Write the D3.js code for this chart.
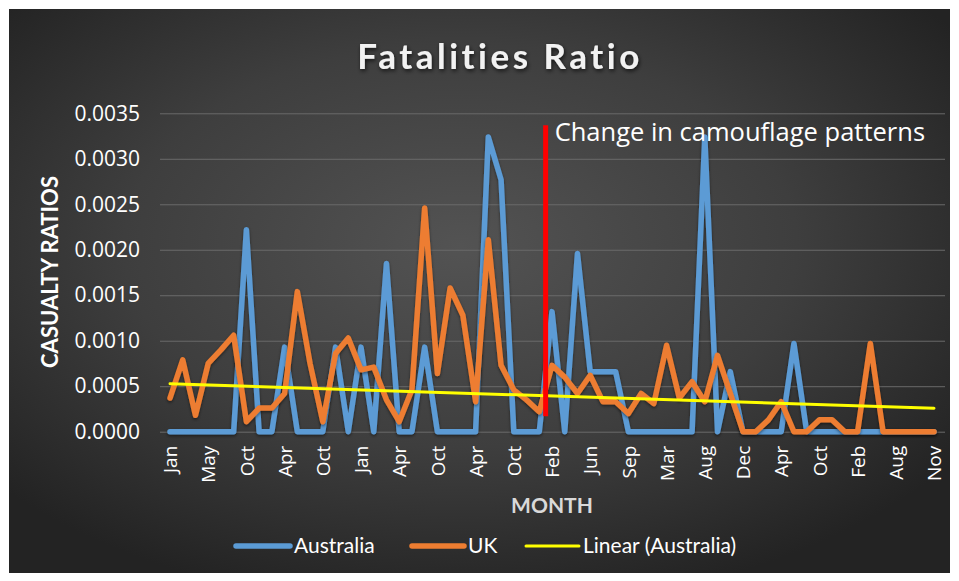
<!DOCTYPE html>
<html>
<head>
<meta charset="utf-8">
<script src="https://cdn.jsdelivr.net/npm/d3@7/dist/d3.min.js"></script>
<style>
  html, body { margin: 0; padding: 0; background: #ffffff; }
  svg { display: block; }
</style>
</head>
<body>
<svg id="chart" width="959" height="581"></svg>
<script>
// Casualty ratios per reporting period (61 periods), Australia vs UK
const australia = [
  0, 0, 0, 0, 0, 0, 0.00222, 0, 0, 0.00093,
  0, 0, 0, 0.00093, 0, 0.00093, 0, 0.00185, 0, 0,
  0.00093, 0, 0, 0, 0, 0.00324, 0.00277, 0, 0, 0,
  0.00132, 0, 0.00196, 0.00066, 0.00066, 0.00066, 0, 0, 0, 0,
  0, 0, 0.00324, 0, 0.00066, 0, 0, 0, 0, 0.00097,
  0, 0, 0, 0, 0, 0, 0, 0, 0, 0, 0
];
const uk = [
  0.00037, 0.00079, 0.00018, 0.00075, 0.00090, 0.00106, 0.00011, 0.00026, 0.00026, 0.00042,
  0.00154, 0.00075, 0.00011, 0.00086, 0.00103, 0.00068, 0.00071, 0.00035, 0.00011, 0.00046,
  0.00246, 0.00064, 0.00158, 0.00128, 0.00033, 0.00211, 0.00073, 0.00046, 0.00035, 0.00022,
  0.00073, 0.00060, 0.00042, 0.00062, 0.00033, 0.00033, 0.00020, 0.00042, 0.00031, 0.00095,
  0.00037, 0.00055, 0.00033, 0.00084, 0.00042, 0, 0, 0.00013, 0.00033, 0,
  0, 0.00013, 0.00013, 0, 0, 0.00097, 0, 0, 0, 0, 0
];
// Month shown under every third period
const tickMonths = ["Jan", "May", "Oct", "Apr", "Oct", "Jan", "Apr", "Oct", "Apr", "Oct",
  "Feb", "Jun", "Sep", "Mar", "Aug", "Dec", "Apr", "Oct", "Feb", "Aug", "Nov"];
const yTicks = [0, 0.0005, 0.0010, 0.0015, 0.0020, 0.0025, 0.0030, 0.0035];
// Camouflage change marker: between periods 29 and 30
const markerAt = 29.5;
const markerRange = [0.00017, 0.00337];
const markerText = "Change in camouflage patterns";

const svg = d3.select("#chart");
const plot = { left: 160, right: 945, top: 113.3, bottom: 431.7 };
const xFirst = 170, xLast = 934;

const defs = svg.append("defs");
const bg = defs.append("radialGradient").attr("id", "bgGrad")
  .attr("cx", "48%").attr("cy", "42%").attr("r", "65%");
bg.append("stop").attr("offset", "0%").attr("stop-color", "#535353");
bg.append("stop").attr("offset", "55%").attr("stop-color", "#3e3e3e");
bg.append("stop").attr("offset", "100%").attr("stop-color", "#232323");

const shadow = defs.append("filter").attr("id", "titleShadow")
  .attr("x", "-10%").attr("y", "-30%").attr("width", "120%").attr("height", "160%");
shadow.append("feDropShadow").attr("dx", 1).attr("dy", 2).attr("stdDeviation", 2)
  .attr("flood-color", "#000").attr("flood-opacity", 0.7);

const lineShadow = defs.append("filter").attr("id", "lineShadow")
  .attr("x", "-5%").attr("y", "-10%").attr("width", "110%").attr("height", "120%");
lineShadow.append("feDropShadow").attr("dx", 0).attr("dy", 1.5).attr("stdDeviation", 1.5)
  .attr("flood-color", "#000").attr("flood-opacity", 0.5);

svg.append("rect").attr("x", 9).attr("y", 9).attr("width", 941).attr("height", 564)
  .attr("fill", "url(#bgGrad)");

const x = d3.scaleLinear().domain([0, australia.length - 1]).range([xFirst, xLast]);
const y = d3.scaleLinear().domain([0, 0.0035]).range([plot.bottom, plot.top]);

// Y axis with gridlines
const yAxis = svg.append("g").attr("transform", `translate(${plot.left},0)`)
  .call(d3.axisLeft(y).tickValues(yTicks).tickFormat(d3.format(".4f"))
    .tickSize(-(plot.right - plot.left)).tickPadding(20));
yAxis.select(".domain").remove();
yAxis.selectAll(".tick line").attr("stroke", "#6a6a6a").attr("stroke-width", 1);
yAxis.selectAll(".tick text").attr("fill", "#ffffff")
  .style("font-family", "'Open Sans', sans-serif").style("font-size", "21px");

// X axis labels, rotated
const tickIdx = tickMonths.map((_, i) => i * 3);
const xAxis = svg.append("g").attr("transform", `translate(0,${plot.bottom})`)
  .call(d3.axisBottom(x).tickValues(tickIdx).tickFormat((d, i) => tickMonths[i]).tickSize(0));
xAxis.select(".domain").remove();
xAxis.selectAll(".tick text")
  .attr("fill", "#ffffff")
  .style("font-family", "'Open Sans', sans-serif").style("font-size", "19px")
  .attr("text-anchor", "end")
  .attr("transform", "translate(0,14) rotate(-90)")
  .attr("x", 0).attr("y", 0).attr("dy", "0.35em");

// Series lines
const line = d3.line().x((d, i) => x(i)).y(d => y(d));
svg.append("path").datum(australia).attr("d", line)
  .attr("fill", "none").attr("stroke", "#5B9BD5").attr("stroke-width", 5.5)
  .attr("stroke-linejoin", "round").attr("stroke-linecap", "round")
  .attr("filter", "url(#lineShadow)");
svg.append("path").datum(uk).attr("d", line)
  .attr("fill", "none").attr("stroke", "#ED7D31").attr("stroke-width", 5.5)
  .attr("stroke-linejoin", "round").attr("stroke-linecap", "round")
  .attr("filter", "url(#lineShadow)");

// Linear trendline of the Australian series (least squares)
const n = australia.length;
const mx = d3.mean(australia, (d, i) => i);
const my = d3.mean(australia);
const slope = d3.sum(australia, (d, i) => (i - mx) * (d - my)) / d3.sum(australia, (d, i) => (i - mx) * (i - mx));
const intercept = my - slope * mx;
svg.append("line")
  .attr("x1", x(0)).attr("y1", y(intercept))
  .attr("x2", x(n - 1)).attr("y2", y(intercept + slope * (n - 1)))
  .attr("stroke", "#FFFF00").attr("stroke-width", 3).attr("stroke-linecap", "round");

// Marker line and note
svg.append("line")
  .attr("x1", x(markerAt)).attr("x2", x(markerAt))
  .attr("y1", y(markerRange[0])).attr("y2", y(markerRange[1]))
  .attr("stroke", "#FF0000").attr("stroke-width", 5);
svg.append("text").attr("x", x(markerAt) + 9).attr("y", 141)
  .attr("fill", "#ffffff")
  .style("font-family", "'Open Sans', sans-serif").style("font-size", "25.5px")
  .text(markerText);

// Title
svg.append("text").attr("x", 500).attr("y", 69).attr("text-anchor", "middle")
  .attr("fill", "#f2f2f2").attr("filter", "url(#titleShadow)")
  .style("font-family", "Lato, sans-serif").style("font-weight", "bold")
  .style("font-size", "35px").style("letter-spacing", "3.5px")
  .text("Fatalities Ratio");

// Axis titles
svg.append("text").attr("transform", "translate(58,272) rotate(-90)")
  .attr("text-anchor", "middle").attr("fill", "#ffffff")
  .style("font-family", "Lato, sans-serif").style("font-weight", "bold").style("font-size", "22px")
  .text("CASUALTY RATIOS");
svg.append("text").attr("x", 552).attr("y", 513).attr("text-anchor", "middle")
  .attr("fill", "#d9d9d9")
  .style("font-family", "Lato, sans-serif").style("font-weight", "bold").style("font-size", "21px")
  .text("MONTH");

// Legend
const legendItems = [
  { label: "Australia", color: "#5B9BD5", width: 5.5, x0: 236, x1: 290 },
  { label: "UK", color: "#ED7D31", width: 5.5, x0: 412, x1: 464 },
  { label: "Linear (Australia)", color: "#FFFF00", width: 3, x0: 526, x1: 579 }
];
const lg = svg.append("g");
legendItems.forEach(it => {
  lg.append("line").attr("x1", it.x0).attr("x2", it.x1).attr("y1", 546).attr("y2", 546)
    .attr("stroke", it.color).attr("stroke-width", it.width).attr("stroke-linecap", "round");
  lg.append("text").attr("x", it.x1 + 4).attr("y", 546).attr("dy", "0.35em")
    .attr("fill", "#ffffff")
    .style("font-family", "Lato, sans-serif").style("font-size", "21px")
    .text(it.label);
});
</script>
</body>
</html>
